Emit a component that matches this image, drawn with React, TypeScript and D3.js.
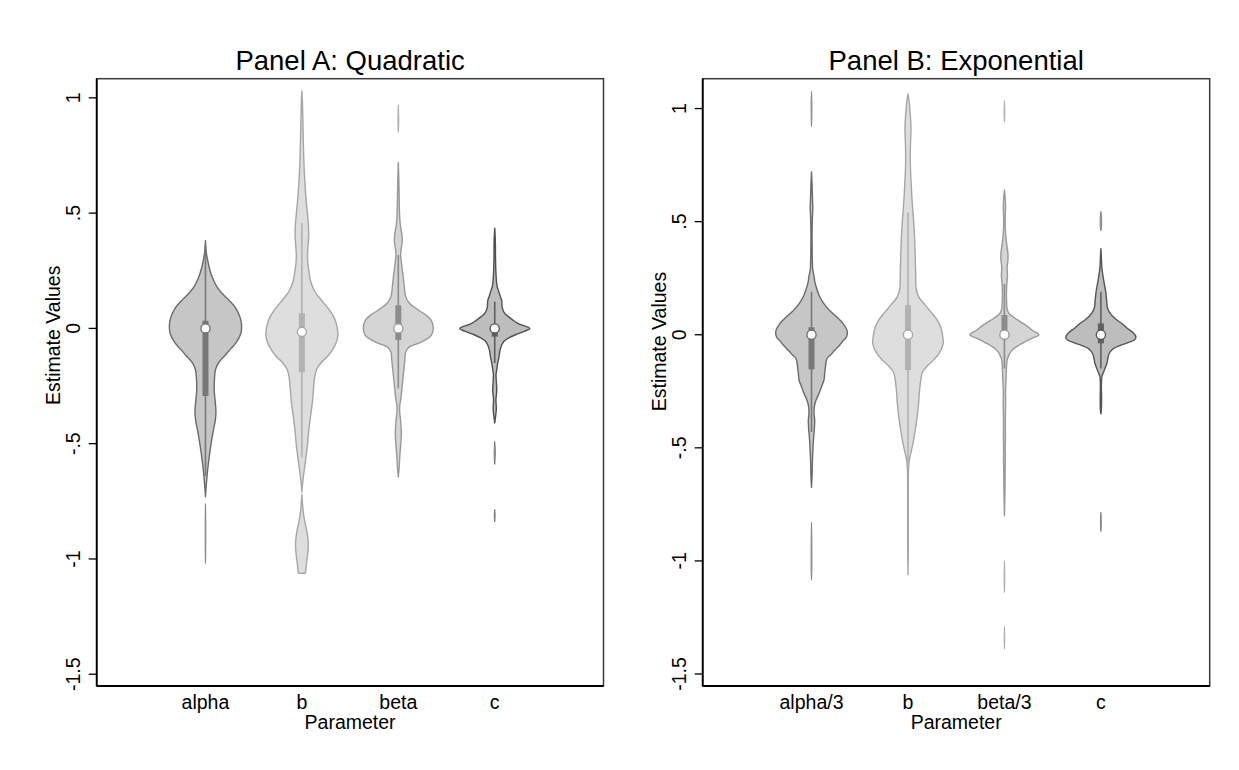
import React from 'react';
import * as d3 from 'd3';

type Seg = [number, number][];

const W = 1239;
const H = 770;
const FONT = "'Liberation Sans', Arial, Helvetica, sans-serif";

const titleA = 'Panel A: Quadratic';
const titleB = 'Panel B: Exponential';
const xTitle = 'Parameter';
const yTitle = 'Estimate Values';

const categoriesA = ['alpha', 'b', 'beta', 'c'];
const categoriesB = ['alpha/3', 'b', 'beta/3', 'c'];

const yTicks = [1, 0.5, 0, -0.5, -1, -1.5];
const yTickLabels = ['1', '.5', '0', '-.5', '-1', '-1.5'];

// Density profiles: [value, relative density (max ~36)]
const alphaA: Seg[] = [
  [[0.38, 0], [0.33, 0.8], [0.3, 2], [0.26, 4], [0.22, 7], [0.18, 11.5], [0.15, 17], [0.12, 24], [0.09, 30], [0.05, 34.5], [0.02, 36], [-0.02, 35.5], [-0.06, 31], [-0.09, 25], [-0.12, 19], [-0.15, 13], [-0.18, 10], [-0.22, 9], [-0.27, 8.8], [-0.32, 9.8], [-0.36, 10.5], [-0.4, 9.8], [-0.44, 8], [-0.49, 6], [-0.54, 4.3], [-0.59, 2.8], [-0.64, 1.6], [-0.68, 0.8], [-0.71, 0.3], [-0.73, 0]],
  [[-0.76, 0], [-0.8, 0.3], [-0.9, 0.35], [-0.98, 0.3], [-1.02, 0]],
];
const bA: Seg[] = [
  [[1.03, 0], [0.97, 0.6], [0.9, 1.0], [0.8, 1.5], [0.7, 2.2], [0.62, 3.2], [0.55, 4.4], [0.5, 5.5], [0.45, 6.5], [0.4, 6.8], [0.36, 6.2], [0.32, 5.6], [0.28, 6], [0.24, 7.3], [0.2, 9], [0.16, 13], [0.12, 20], [0.08, 27.5], [0.04, 33], [0.0, 35.5], [-0.03, 36], [-0.06, 34.5], [-0.09, 31], [-0.12, 26], [-0.15, 19], [-0.18, 14.5], [-0.22, 12.5], [-0.27, 11.5], [-0.32, 10.5], [-0.37, 9], [-0.42, 7.5], [-0.47, 6.3], [-0.51, 5.5], [-0.56, 4], [-0.61, 2.5], [-0.65, 1.3], [-0.69, 0.3], [-0.71, 0]],
  [[-0.72, 0], [-0.76, 0.6], [-0.8, 1.5], [-0.84, 3], [-0.88, 5], [-0.92, 6.2], [-0.96, 6.2], [-1.0, 5.2], [-1.03, 4.3], [-1.062, 3.5]],
];
const betaA: Seg[] = [
  [[0.97, 0], [0.93, 0.5], [0.88, 0.5], [0.85, 0]],
  [[0.72, 0], [0.65, 0.5], [0.58, 0.8], [0.5, 1.2], [0.45, 2], [0.41, 3.5], [0.38, 4], [0.35, 3], [0.32, 2.3], [0.29, 3], [0.26, 3.8], [0.22, 5], [0.18, 6], [0.14, 7.2], [0.11, 11], [0.08, 20], [0.06, 27], [0.035, 33], [0.0, 35], [-0.03, 33], [-0.05, 27], [-0.065, 20], [-0.08, 11], [-0.1, 7.5], [-0.14, 6.5], [-0.18, 5.5], [-0.22, 4.6], [-0.26, 3.6], [-0.3, 2.7], [-0.34, 1.3], [-0.37, 1.5], [-0.41, 2.5], [-0.46, 3], [-0.5, 2.5], [-0.55, 1.6], [-0.6, 0.9], [-0.645, 0]],
];
const cA: Seg[] = [
  [[0.435, 0], [0.38, 0.6], [0.3, 0.8], [0.24, 1.2], [0.2, 1.8], [0.18, 2.5], [0.165, 3.7], [0.14, 5.5], [0.12, 7], [0.09, 7.5], [0.065, 10], [0.05, 14], [0.035, 18.5], [0.02, 24], [0.0, 35], [-0.012, 30], [-0.025, 22], [-0.04, 14.5], [-0.055, 9.5], [-0.07, 7.2], [-0.094, 5.3], [-0.123, 4.3], [-0.15, 3], [-0.18, 2], [-0.2, 1.3], [-0.23, 1.6], [-0.27, 2], [-0.31, 1.2], [-0.35, 1.6], [-0.38, 0.9], [-0.41, 0]],
  [[-0.49, 0], [-0.54, 0.7], [-0.59, 0]],
  [[-0.785, 0], [-0.81, 0.5], [-0.84, 0]],
];

const alphaB: Seg[] = [
  [[1.075, 0], [1.04, 0.4], [0.96, 0.4], [0.92, 0]],
  [[0.72, 0], [0.66, 0.6], [0.6, 1], [0.56, 1.3], [0.52, 0.9], [0.46, 0.6], [0.4, 0.6], [0.34, 0.8], [0.29, 1.2], [0.26, 2.5], [0.23, 3.5], [0.2, 5.5], [0.17, 8], [0.14, 12], [0.11, 17.5], [0.08, 25], [0.05, 31.5], [0.02, 35.5], [-0.01, 35], [-0.025, 32], [-0.045, 28.3], [-0.07, 23], [-0.09, 19], [-0.105, 15.5], [-0.14, 14], [-0.17, 13.2], [-0.2, 12.5], [-0.23, 10], [-0.26, 7.5], [-0.29, 4.5], [-0.32, 2.8], [-0.35, 2.6], [-0.38, 3.2], [-0.42, 2.8], [-0.45, 2.2], [-0.5, 1.5], [-0.55, 1], [-0.62, 0.6], [-0.675, 0]],
  [[-0.83, 0], [-0.9, 0.4], [-1.0, 0.5], [-1.05, 0.4], [-1.085, 0]],
];
const bB: Seg[] = [
  [[1.065, 0], [1.03, 1.2], [0.99, 2], [0.94, 2.8], [0.9, 3], [0.84, 2.5], [0.78, 2.3], [0.72, 2.6], [0.66, 3.3], [0.6, 4], [0.54, 5], [0.48, 6], [0.42, 6.7], [0.34, 7.3], [0.27, 7.7], [0.2, 8.3], [0.165, 11], [0.13, 17.5], [0.1, 23], [0.065, 29.3], [0.03, 33], [0.0, 34.5], [-0.04, 35.2], [-0.08, 31.5], [-0.11, 26], [-0.135, 20], [-0.165, 14.5], [-0.2, 12.8], [-0.25, 11.5], [-0.31, 10.5], [-0.37, 9], [-0.43, 7], [-0.48, 5], [-0.52, 3], [-0.55, 1.5], [-0.58, 0.7], [-0.62, 0.4], [-0.8, 0.3], [-0.95, 0.3], [-1.06, 0]],
];
const betaB: Seg[] = [
  [[1.035, 0], [1.0, 0.4], [0.96, 0.4], [0.94, 0]],
  [[0.64, 0], [0.6, 0.8], [0.565, 1.1], [0.52, 0.8], [0.48, 0.8], [0.44, 1.3], [0.4, 2.3], [0.36, 3.5], [0.33, 3.5], [0.3, 2.7], [0.26, 3], [0.22, 2.3], [0.18, 2], [0.15, 2.2], [0.12, 2.5], [0.095, 4.3], [0.075, 10], [0.06, 15], [0.04, 22], [0.02, 28], [0.0, 34.5], [-0.015, 28], [-0.03, 21], [-0.05, 13], [-0.068, 7.7], [-0.09, 4.5], [-0.11, 2.8], [-0.15, 2], [-0.2, 1.6], [-0.25, 1.1], [-0.3, 1.2], [-0.35, 1], [-0.4, 0.9], [-0.45, 1], [-0.5, 0.8], [-0.55, 0.9], [-0.6, 0.7], [-0.7, 0.5], [-0.8, 0]],
  [[-1.0, 0], [-1.05, 0.4], [-1.1, 0.4], [-1.14, 0]],
  [[-1.29, 0], [-1.34, 0.4], [-1.39, 0]],
];
const cB: Seg[] = [
  [[0.545, 0], [0.52, 0.7], [0.48, 0.7], [0.46, 0]],
  [[0.38, 0], [0.34, 0.5], [0.3, 0.9], [0.27, 1.7], [0.23, 3.2], [0.19, 4.8], [0.15, 5.8], [0.12, 6.5], [0.1, 8.5], [0.085, 11], [0.065, 16], [0.05, 21], [0.03, 26], [0.01, 32], [-0.008, 35], [-0.022, 33.7], [-0.035, 27], [-0.048, 19], [-0.06, 12.7], [-0.075, 9.5], [-0.09, 7.7], [-0.126, 6], [-0.15, 4], [-0.165, 2.7], [-0.185, 1], [-0.22, 0.5], [-0.28, 0.7], [-0.33, 0.5], [-0.35, 0]],
  [[-0.785, 0], [-0.83, 0.5], [-0.87, 0]],
];

// Box-plot statistics
const medianA = [0, -0.015, 0, 0];
const q1A = [-0.293, -0.19, -0.05, -0.036];
const q3A = [0.033, 0.066, 0.1, 0.015];
const loA = [-0.64, -0.56, -0.26, -0.15];
const hiA = [0.36, 0.457, 0.318, 0.116];

const medianB = [0, 0, 0, 0];
const q1B = [-0.153, -0.156, -0.01, -0.038];
const q3B = [0.033, 0.131, 0.087, 0.05];
const loB = [-0.43, -0.58, -0.15, -0.149];
const hiB = [0.19, 0.54, 0.225, 0.19];

const fillsA = ['#c6c6c6', '#dedede', '#d5d5d5', '#bdbdbd'];
const strokesA = ['#6a6a6a', '#a6a6a6', '#999999', '#4f4f4f'];
const boxesA = ['#787878', '#b2b2b2', '#8c8c8c', '#5e5e5e'];
const fillsB = ['#c6c6c6', '#dedede', '#d5d5d5', '#bdbdbd'];
const strokesB = ['#6a6a6a', '#a6a6a6', '#999999', '#555555'];
const boxesB = ['#787878', '#b2b2b2', '#8c8c8c', '#606060'];

type PanelProps = {
  left: number; right: number; top: number; bottom: number;
  yDomain: [number, number];
  categories: string[];
  profiles: Seg[][];
  median: number[]; q1: number[]; q3: number[]; lo: number[]; hi: number[];
  fills: string[]; strokes: string[]; boxes: string[];
  title: string;
  yTitleValue: number;
};

function Panel(p: PanelProps) {
  const y = d3.scaleLinear().domain(p.yDomain).range([p.bottom, p.top]);
  const x = d3.scalePoint<string>().domain(p.categories).range([p.left, p.right]).padding(1.128);
  const step = x.step();
  const w = d3.scaleLinear().domain([0, 36]).range([0, step * 0.373]);
  const cxMid = (p.left + p.right) / 2;
  return (
    <g>
      <text x={cxMid} y={70} textAnchor="middle" fontFamily={FONT} fontSize={27.5} fill="#000">{p.title}</text>
      <rect x={p.left} y={p.top} width={p.right - p.left} height={p.bottom - p.top} fill="#fff" stroke="#3a3a3a" strokeWidth={1.5} />
      {p.categories.map((c, i) => {
        const cx = x(c)!;
        const area = d3.area<[number, number]>()
          .y(d => y(d[0]))
          .x0(d => cx - w(d[1]))
          .x1(d => cx + w(d[1]))
          .curve(d3.curveCatmullRom.alpha(0.5));
        return (
          <g key={c}>
            {p.profiles[i].map((seg, k) => {
              const maxD = d3.max(seg, d => d[1]) || 0;
              const thin = maxD < 1.5;
              return (
                <path key={k} d={area(seg) || ''} fill={p.fills[i]} stroke={p.strokes[i]}
                  strokeWidth={thin ? 0.8 : 1.4} strokeOpacity={thin ? 0.85 : 1} strokeLinejoin="round" />
              );
            })}
            <line x1={cx} x2={cx} y1={y(p.hi[i])} y2={y(p.lo[i])} stroke={p.boxes[i]} strokeWidth={1.6} />
            <rect x={cx - 3} width={6} y={y(p.q3[i])} height={y(p.q1[i]) - y(p.q3[i])} fill={p.boxes[i]} />
            <circle cx={cx} cy={y(p.median[i])} r={4.6} fill="#fff" stroke={p.strokes[i]} strokeWidth={1.3} />
            <text x={cx} y={709} textAnchor="middle" fontFamily={FONT} fontSize={19.5} fill="#000">{c}</text>
          </g>
        );
      })}
      <line x1={p.left} x2={p.right} y1={p.bottom} y2={p.bottom} stroke="#000" strokeWidth={1.8} />
      <line x1={p.left} x2={p.left} y1={p.top} y2={p.bottom} stroke="#000" strokeWidth={1.8} />
      {yTicks.map((t, i) => (
        <g key={t}>
          <line x1={p.left - 8} x2={p.left} y1={y(t)} y2={y(t)} stroke="#000" strokeWidth={1.3} />
          <text transform={`translate(${p.left - 16.7},${y(t)}) rotate(-90)`} textAnchor="middle" fontFamily={FONT} fontSize={19.5} fill="#000">{yTickLabels[i]}</text>
        </g>
      ))}
      <text transform={`translate(${p.left - 37},${y(p.yTitleValue)}) rotate(-90)`} textAnchor="middle" fontFamily={FONT} fontSize={19.5} fill="#000">{yTitle}</text>
      <text x={cxMid} y={729} textAnchor="middle" fontFamily={FONT} fontSize={19.5} fill="#000">{xTitle}</text>
    </g>
  );
}

export default function App() {
  return (
    <svg width={W} height={H} style={{ position: 'absolute', left: 0, top: 0, background: '#fff' }}>
      <rect width={W} height={H} fill="#fff" />
      <Panel left={96.7} right={603.5} top={78.7} bottom={686} yDomain={[-1.551, 1.083]}
        categories={categoriesA} profiles={[alphaA, bA, betaA, cA]}
        median={medianA} q1={q1A} q3={q3A} lo={loA} hi={hiA}
        fills={fillsA} strokes={strokesA} boxes={boxesA} title={titleA} yTitleValue={-0.03} />
      <Panel left={702.7} right={1209.7} top={78.7} bottom={686} yDomain={[-1.553, 1.132]}
        categories={categoriesB} profiles={[alphaB, bB, betaB, cB]}
        median={medianB} q1={q1B} q3={q3B} lo={loB} hi={hiB}
        fills={fillsB} strokes={strokesB} boxes={boxesB} title={titleB} yTitleValue={-0.03} />
    </svg>
  );
}
